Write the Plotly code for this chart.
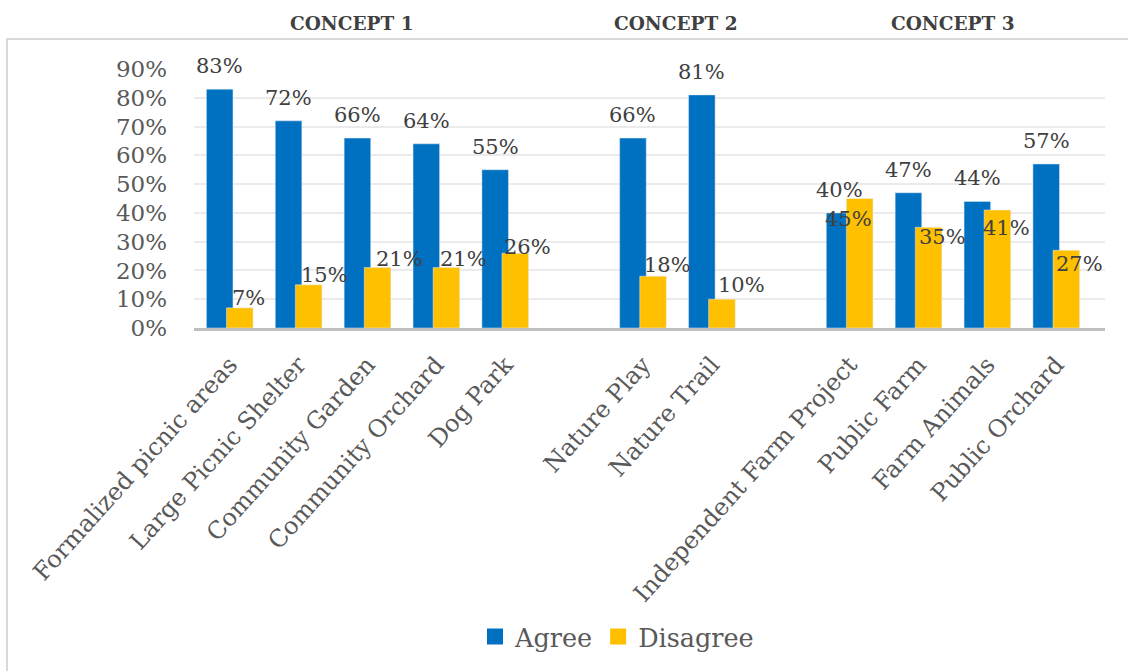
import plotly.graph_objects as go

# Survey results by amenity, grouped by concept (blank entries separate the groups)
categories = [
    "Formalized picnic areas", "Large Picnic Shelter", "Community Garden",
    "Community Orchard", "Dog Park", " ",
    "Nature Play", "Nature Trail", "  ",
    "Independent Farm Project", "Public Farm", "Farm Animals", "Public Orchard",
]
agree = [0.83, 0.72, 0.66, 0.64, 0.55, None, 0.66, 0.81, None, 0.40, 0.47, 0.44, 0.57]
disagree = [0.07, 0.15, 0.21, 0.21, 0.26, None, 0.18, 0.10, None, 0.45, 0.35, 0.41, 0.27]
concepts = ["CONCEPT 1", "CONCEPT 2", "CONCEPT 3"]
y_ticks = [0, 0.1, 0.2, 0.3, 0.4, 0.5, 0.6, 0.7, 0.8, 0.9]

# Styling
BLUE = "#0070C0"
GOLD = "#FFC000"
TEXT = "#595959"
FONT = "DejaVu Serif"
W, H = 1128, 671
L, R, T, B = 194, 23, 69, 342
PLOT_W = W - L - R
PLOT_H = H - T - B
SLOT = PLOT_W / len(categories)

# Bars overlap slightly, the second series drawn over the first
BAR_W = 0.386
AGREE_OFF = -0.339
DIS_OFF = -0.047

# Label nudges (px) for the disagree labels: (right, up) from bar top centre
dis_nudge = [(9, 10), (16, 10), (22, 9), (17, 9), (12, 6), None,
             (14, 11), (19, 14), None,
             (-11, -20), (14, -10), (9, -18), (13, -14)]

fig = go.Figure()
fig.add_trace(go.Bar(x=categories, y=agree, name="Agree", marker_color=BLUE,
                     width=BAR_W, offset=AGREE_OFF, showlegend=False))
fig.add_trace(go.Bar(x=categories, y=disagree, name="Disagree", marker_color=GOLD,
                     width=BAR_W, offset=DIS_OFF, showlegend=False))

# Legend entries with larger square swatches
for nm, col in (("Agree", BLUE), ("Disagree", GOLD)):
    fig.add_trace(go.Scatter(x=[None], y=[None], mode="markers", name=nm,
                             marker=dict(symbol="square", size=17, color=col)))

annotations = []
agree_cx = (AGREE_OFF + BAR_W / 2) * SLOT
dis_cx = (DIS_OFF + BAR_W / 2) * SLOT
for cat, a, d, nud in zip(categories, agree, disagree, dis_nudge):
    if a is not None:
        annotations.append(dict(x=cat, y=a, xref="x", yref="y", text=f"{round(a*100)}%",
                                showarrow=False, xshift=agree_cx, yshift=23,
                                xanchor="center", yanchor="middle",
                                font=dict(family=FONT, size=21, color="#404040")))
    if d is not None:
        dx, dy = nud
        annotations.append(dict(x=cat, y=d, xref="x", yref="y", text=f"{round(d*100)}%",
                                showarrow=False, xshift=dis_cx + dx, yshift=dy,
                                xanchor="center", yanchor="middle",
                                font=dict(family=FONT, size=21, color="#404040")))

# Concept headers above each group
header_x = [(352 - L) / PLOT_W, (676 - L) / PLOT_W, (953 - L) / PLOT_W]
for txt, hx in zip(concepts, header_x):
    annotations.append(dict(x=hx, y=(H - B - 23) / PLOT_H, xref="paper", yref="paper",
                            text=f"<b>{txt}</b>", showarrow=False,
                            xanchor="center", yanchor="middle",
                            font=dict(family=FONT, size=18.5, color="#404040")))

# Light outer frame around the chart body
frame = dict(type="rect", xref="paper", yref="paper",
             x0=(7 - L) / PLOT_W, x1=(W + 10 - L) / PLOT_W,
             y0=(H - B - (H + 10)) / PLOT_H, y1=(H - B - 39) / PLOT_H,
             line=dict(color="#d9d9d9", width=2), fillcolor="rgba(0,0,0,0)", layer="below")

fig.update_layout(
    width=W, height=H,
    margin=dict(l=L, r=R, t=T, b=B, pad=0),
    barmode="overlay",
    plot_bgcolor="white", paper_bgcolor="white",
    font=dict(family=FONT, color=TEXT),
    annotations=annotations,
    shapes=[frame],
    legend=dict(orientation="h", x=(617 - L) / PLOT_W, xanchor="center",
                y=(H - B - 637) / PLOT_H, yanchor="middle",
                font=dict(family=FONT, size=25.5, color=TEXT), itemwidth=30,
                bgcolor="rgba(0,0,0,0)"),
)
fig.update_xaxes(type="category", categoryorder="array", categoryarray=categories,
                 tickangle=-48, tickfont=dict(family=FONT, size=24, color=TEXT),
                 showgrid=False, showline=True, linecolor="#bfbfbf", linewidth=3,
                 ticks="", zeroline=False, ticklabelstandoff=10)
fig.update_yaxes(range=[0, 0.9], tickvals=y_ticks, tickformat=".0%",
                 tickfont=dict(family=FONT, size=23, color=TEXT),
                 showgrid=True, gridcolor="#ebebeb", gridwidth=2,
                 zeroline=False, showline=False, ticks="", ticklabelstandoff=26)

fig.write_html("out.html")
